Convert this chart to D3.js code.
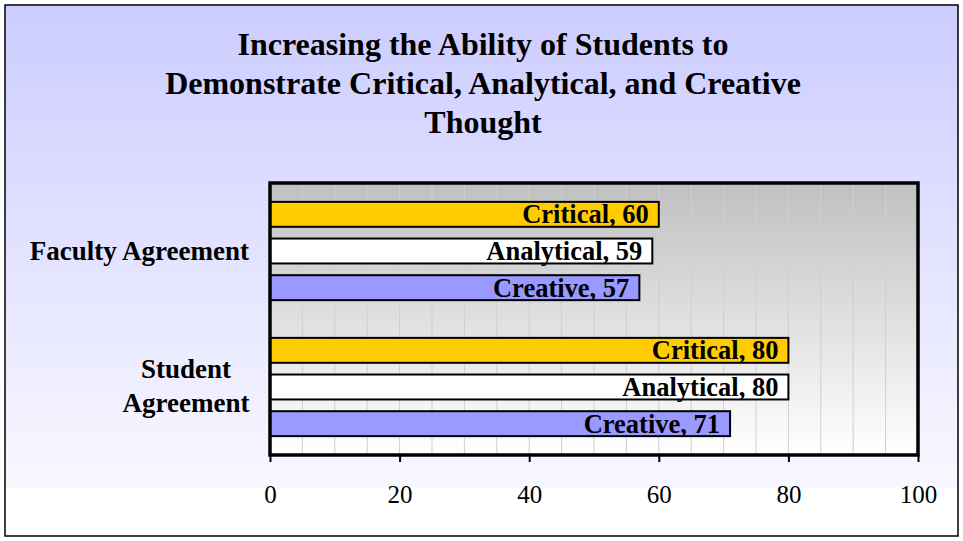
<!DOCTYPE html>
<meta charset="utf-8">
<style>
body { margin: 0; background: #fff; }
text { font-family: "Liberation Serif", "Times New Roman", serif; }
</style>
<body>
<script src="https://d3js.org/d3.v7.min.js"></script>
<script>

// data
var groups = ["Faculty Agreement", "Student Agreement"];
var series = ["Critical", "Analytical", "Creative"];
var faculty = [60, 59, 57];
var student = [80, 80, 71];
var xTicks = [0, 20, 40, 60, 80, 100];
var titleLines = ["Increasing the Ability of Students to",
                  "Demonstrate Critical, Analytical, and Creative",
                  "Thought"];
var colors = ["#ffcc00", "#ffffff", "#9999ff"];

var W = 963, H = 541;
var margin = {top: 183, right: 45, bottom: 86, left: 270},
    width = W - margin.left - margin.right,
    height = H - margin.top - margin.bottom;

var svg = d3.select("body").append("svg")
    .attr("width", W)
    .attr("height", H);

var defs = svg.append("defs");
var bgGrad = defs.append("linearGradient").attr("id", "bgGrad")
    .attr("x1", 0).attr("y1", 0).attr("x2", 0).attr("y2", 1);
bgGrad.append("stop").attr("offset", "0%").attr("stop-color", "#ccccff");
bgGrad.append("stop").attr("offset", "100%").attr("stop-color", "#f8f8ff");

var plotGrad = defs.append("linearGradient").attr("id", "plotGrad")
    .attr("x1", 0).attr("y1", 0).attr("x2", 0).attr("y2", 1);
plotGrad.append("stop").attr("offset", "0%").attr("stop-color", "#c0c0c0");
plotGrad.append("stop").attr("offset", "100%").attr("stop-color", "#ffffff");

// chart background + frame
svg.append("rect")
    .attr("x", 5).attr("y", 5).attr("width", W - 10).attr("height", H - 10)
    .attr("fill", "#fff");
svg.append("rect")
    .attr("x", 5).attr("y", 5).attr("width", W - 10).attr("height", 483)
    .attr("fill", "url(#bgGrad)");
svg.append("rect")
    .attr("x", 5).attr("y", 5).attr("width", W - 10).attr("height", H - 10)
    .attr("fill", "none").attr("stroke", "#000").attr("stroke-width", 1.5);

// title
svg.append("text")
    .attr("text-anchor", "middle")
    .style("font-weight", "bold")
    .style("font-size", "32px")
  .selectAll("tspan")
    .data(titleLines)
  .enter().append("tspan")
    .attr("x", 483)
    .attr("y", function(d, i) { return 55 + i * 39; })
    .text(function(d) { return d; });

var g = svg.append("g")
    .attr("transform", "translate(" + margin.left + "," + margin.top + ")");

// scales
var x = d3.scaleLinear().domain([0, 100]).range([0, width]);
var y0 = d3.scaleBand().domain(groups).range([0, height]);
var y1 = d3.scaleBand().domain(series).range([0, 110]).paddingInner(0.32).paddingOuter(0.16);

// plot area
g.append("rect")
    .attr("width", width).attr("height", height)
    .attr("fill", "url(#plotGrad)");

// gridlines every 5
g.append("g")
  .selectAll("line")
    .data(d3.range(5, 100, 5))
  .enter().append("line")
    .attr("x1", function(d) { return x(d); })
    .attr("x2", function(d) { return x(d); })
    .attr("y1", 0).attr("y2", height)
    .attr("stroke", "#cfcfcf")
    .attr("stroke-width", 1);

// bars
var rows = [faculty, student];
var grp = g.selectAll(".grp")
    .data(groups)
  .enter().append("g")
    .attr("class", "grp")
    .attr("transform", function(d) {
      return "translate(0," + (y0(d) + (y0.bandwidth() - 110) / 2) + ")";
    });

grp.each(function(gname, gi) {
  var sel = d3.select(this);
  var vals = rows[gi].map(function(v, i) { return {s: series[i], v: v, c: colors[i]}; });
  sel.selectAll("rect")
      .data(vals)
    .enter().append("rect")
      .attr("x", 0)
      .attr("y", function(d) { return y1(d.s); })
      .attr("width", function(d) { return x(d.v); })
      .attr("height", y1.bandwidth())
      .attr("fill", function(d) { return d.c; })
      .attr("stroke", "#000")
      .attr("stroke-width", 2);
  sel.selectAll("text")
      .data(vals)
    .enter().append("text")
      .attr("x", function(d) { return x(d.v) - 10; })
      .attr("y", function(d) { return y1(d.s) + y1.bandwidth() / 2 + 9; })
      .attr("text-anchor", "end")
      .style("font-weight", "bold")
      .style("font-size", "26.5px")
      .text(function(d) { return d.s + ", " + d.v; });
});

// plot frame
g.append("rect")
    .attr("width", width).attr("height", height)
    .attr("fill", "none")
    .attr("stroke", "#000")
    .attr("stroke-width", 3.5);

// x axis
var xAxis = g.append("g")
    .attr("transform", "translate(0," + height + ")")
    .call(d3.axisBottom(x).tickValues(xTicks).tickSize(7).tickPadding(23));
xAxis.select(".domain").remove();
xAxis.selectAll(".tick line").attr("stroke", "#000").attr("stroke-width", 2);
xAxis.selectAll("text")
    .style("font-family", "'Liberation Serif', serif")
    .style("font-size", "25px")
    .attr("fill", "#000");

// category labels
g.append("text")
    .attr("x", -21).attr("y", y0("Faculty Agreement") + 77)
    .attr("text-anchor", "end")
    .style("font-weight", "bold").style("font-size", "27px")
    .text("Faculty Agreement");

var stud = g.append("text")
    .attr("text-anchor", "middle")
    .style("font-weight", "bold").style("font-size", "27px");
["Student", "Agreement"].forEach(function(t, i) {
  stud.append("tspan")
      .attr("x", -84)
      .attr("y", y0("Student Agreement") + 59 + i * 34)
      .text(t);
});

</script>
</body>
